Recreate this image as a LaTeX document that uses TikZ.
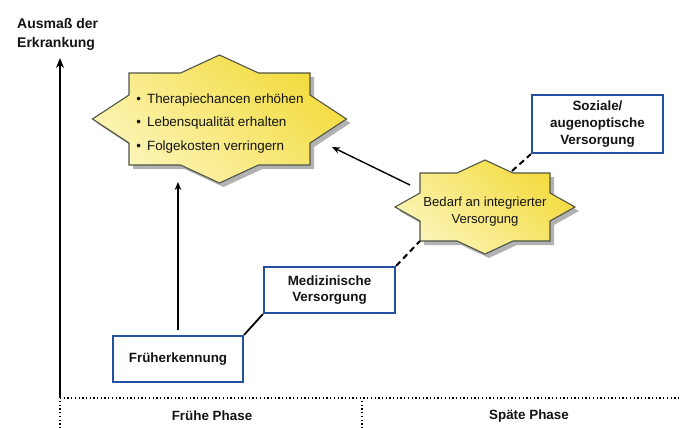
\documentclass[tikz,border=0pt]{standalone}
\usepackage{fontspec}
\setmainfont{Liberation Sans}
\usetikzlibrary{arrows.meta,calc}
\definecolor{bluebox}{RGB}{35,80,160}
\definecolor{starline}{RGB}{80,85,70}
\definecolor{ylight}{RGB}{252,245,185}
\definecolor{ydark}{RGB}{243,219,60}
\definecolor{txt}{RGB}{20,20,20}
\newcommand\drawstar[9]{%
 \coordinate (#1-tl) at ({#2-#4},{#3-#5});
 \coordinate (#1-n1) at ({#2-#8},{#3-#5});
 \coordinate (#1-t) at (#2,{#3-#7});
 \coordinate (#1-n2) at ({#2+#8},{#3-#5});
 \coordinate (#1-tr) at ({#2+#4},{#3-#5});
 \coordinate (#1-n3) at ({#2+#4},{#3-#9});
 \coordinate (#1-r) at ({#2+#6},#3);
 \coordinate (#1-n4) at ({#2+#4},{#3+#9});
 \coordinate (#1-br) at ({#2+#4},{#3+#5});
 \coordinate (#1-n5) at ({#2+#8},{#3+#5});
 \coordinate (#1-b) at (#2,{#3+#7});
 \coordinate (#1-n6) at ({#2-#8},{#3+#5});
 \coordinate (#1-bl) at ({#2-#4},{#3+#5});
 \coordinate (#1-n7) at ({#2-#4},{#3+#9});
 \coordinate (#1-l) at ({#2-#6},#3);
 \coordinate (#1-n8) at ({#2-#4},{#3-#9});
 \fill[starshadow] (#1-tl) -- (#1-n1) -- (#1-t) -- (#1-n2) -- (#1-tr) -- (#1-n3) -- (#1-r) -- (#1-n4) -- (#1-br) -- (#1-n5) -- (#1-b) -- (#1-n6) -- (#1-bl) -- (#1-n7) -- (#1-l) -- (#1-n8) -- cycle;
 \path[starbody] (#1-tl) -- (#1-n1) -- (#1-t) -- (#1-n2) -- (#1-tr) -- (#1-n3) -- (#1-r) -- (#1-n4) -- (#1-br) -- (#1-n5) -- (#1-b) -- (#1-n6) -- (#1-bl) -- (#1-n7) -- (#1-l) -- (#1-n8) -- cycle;
}
\tikzset{
 starshadow/.style={fill=black!50, opacity=0.6, transform canvas={xshift=4pt,yshift=-4pt}},
 starbody/.style={draw=starline, line width=1.1pt, top color=ydark, bottom color=ylight, shading angle=-40},
 bluerect/.style={draw=bluebox, line width=2.2pt, fill=white, inner sep=0pt, align=center, text=txt,
   font=\fontsize{13.4}{16.6}\selectfont\bfseries},
 startext/.style={text=txt, inner sep=0pt},
 dotline/.style={line width=2.4pt, dash pattern=on 1.3pt off 2.4pt},
 dashline/.style={line width=2pt, dash pattern=on 6pt off 4pt},
 arr/.style={line width=1.4pt, -{Stealth[length=8pt,width=6.5pt]}},
}
\begin{document}
\begin{tikzpicture}[x=1pt,y=-1pt]
\fill[white] (0,0) rectangle (681,428);
\useasboundingbox (0,0) rectangle (681,428);

% title
\node[anchor=west, align=left, inner sep=0pt, text=txt, font=\fontsize{14}{19}\selectfont\bfseries] (title) at (17,34.5) {Ausmaß der\\Erkrankung};

% axes
\coordinate (yorig) at (60,398);
\coordinate (ytop) at (60,58);
\coordinate (xend) at (681,398);
\coordinate (d1t) at (60,401);
\coordinate (d1b) at (60,430);
\coordinate (d2t) at (362,401);
\coordinate (d2b) at (362,430);
\draw[line width=2pt, -{Stealth[length=10pt,width=8pt]}] (yorig) -- (ytop);
\draw[dotline] (yorig) -- (xend);
\draw[dotline] (d1t) -- (d1b);
\draw[dotline] (d2t) -- (d2b);
\node[text=txt, font=\fontsize{13.4}{16}\selectfont\bfseries] (early) at (212,416) {Frühe Phase};
\node[text=txt, font=\fontsize{13.4}{16}\selectfont\bfseries] (late) at (529,416) {Späte Phase};

% stars
\drawstar{B}{219.5}{119}{90.5}{46}{127}{64}{39}{24}
\drawstar{S}{485}{207}{65}{34}{90}{47}{28}{14}
\node[startext, align=left, font=\fontsize{13.4}{23.5}\selectfont] (goals) at (220,123.5)
 {\textbullet\hspace{6pt}Therapiechancen erhöhen\\\textbullet\hspace{6pt}Lebensqualität erhalten\\\textbullet\hspace{6pt}Folgekosten verringern};
\node[startext, align=center, font=\fontsize{13.1}{17}\selectfont] (need) at (485,211.5)
 {Bedarf an integrierter\\Versorgung};

% boxes
\node[bluerect, minimum width=130pt, minimum height=46pt] (fk) at (178,359) {Früherkennung};
\node[bluerect, minimum width=131pt, minimum height=46pt] (med) at (329.5,290) {Medizinische\\Versorgung};
\node[bluerect, minimum width=131pt, minimum height=58pt] (soz) at (597.5,124) {Soziale/\\augenoptische\\Versorgung};

% connectors
\coordinate (tipA) at (178,182);
\coordinate (srcB) at (410,185);
\coordinate (tipB) at (332,147);
\coordinate (sTop) at (512,171);
\draw[arr] ([yshift=5pt]fk.north) -- (tipA);
\draw[arr] (srcB) -- (tipB);
\draw[line width=1.8pt] (fk.north east) -- (med.south west);
\draw[dashline] (med.north east) -- (S-bl);
\draw[dashline] (sTop) -- (soz.south west);
\end{tikzpicture}
\end{document}
